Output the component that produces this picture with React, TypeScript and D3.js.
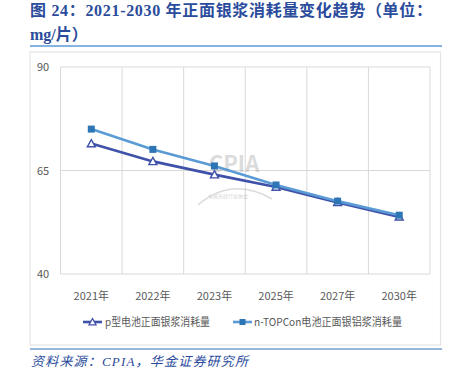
import React from 'react'
import * as d3 from 'd3'

const years = ['2021年', '2022年', '2023年', '2025年', '2027年', '2030年']
const pType = [71.5, 67.2, 64.0, 61.0, 57.3, 53.8]
const nTopcon = [75.0, 70.1, 66.1, 61.5, 57.6, 54.2]
const yTicks = [40, 65, 90]
const seriesNames = ['p型电池正面银浆消耗量', 'n-TOPCon电池正面银铝浆消耗量']

const W = 455
const H = 373
const margin = { top: 67, right: 25, bottom: 99, left: 60.5 }

export default function App() {
  const x = d3.scaleBand().domain(years).range([margin.left, W - margin.right]).padding(0)
  const y = d3.scaleLinear().domain([40, 90]).range([H - margin.bottom, margin.top])

  const line = d3.line<number>()
    .x((d, i) => x(years[i])! + x.bandwidth() / 2)
    .y(d => y(d))

  const grid = '#D9D9D9'
  const label = '#595959'
  const dark = '#3F51A8'
  const light = '#5B9BD5'
  const sq = '#2E75B6'
  const font = '"Noto Sans CJK SC", "Noto Sans", sans-serif'
  const titleFont = '"Liberation Serif", "Noto Sans CJK SC", serif'

  const tri = (cx: number, cy: number, s: number) =>
    `M${cx},${cy - s} L${cx + s},${cy + s * 0.8} L${cx - s},${cy + s * 0.8} Z`

  const edges = [...years.map(d => x(d)!), W - margin.right]

  return (
    <svg width={W} height={H} style={{ position: 'absolute', left: 0, top: 0 }}>
      <rect width={W} height={H} fill="#fff" />
      {/* title */}
      <text x={30} y={16} fontFamily={titleFont} fontWeight="bold" fontSize={16} fill="#2B4C9C"
        textLength={402} lengthAdjust="spacing">
        图 24：2021-2030 年正面银浆消耗量变化趋势（单位：
      </text>
      <text x={30} y={40} fontFamily={titleFont} fontWeight="bold" fontSize={16} fill="#2B4C9C">
        mg/片）
      </text>
      <line x1={30} x2={442} y1={46} y2={46} stroke={light} strokeWidth={1.5} />

      {/* chart frame */}
      <rect x={30} y={52} width={410.5} height={293} fill="none" stroke="#E4E4E4" strokeWidth={1.2} />

      {/* grid */}
      {yTicks.map(t => (
        <g key={t}>
          <line x1={margin.left} x2={W - margin.right} y1={y(t)} y2={y(t)} stroke={grid} strokeWidth={1} />
          <text x={37} y={y(t) + 4} fontFamily={font} fontSize={11} fill={label}>{t}</text>
        </g>
      ))}
      {edges.map((e, i) => (
        <line key={i} x1={e} x2={e} y1={y(90)} y2={y(40)} stroke={grid} strokeWidth={1} />
      ))}
      {years.map(d => (
        <text key={d} x={x(d)! + x.bandwidth() / 2} y={300} textAnchor="middle" fontFamily={font} fontSize={11} fill={label}>{d}</text>
      ))}

      {/* watermark */}
      <g opacity={0.4}>
        <text x={234} y={172} textAnchor="middle" fontFamily={font} fontWeight="bold" fontSize={22} fill="#A8A8A8">CPIA</text>
        <text x={228} y={198} textAnchor="middle" fontFamily={font} fontSize={5} fill="#888">中国光伏行业协会</text>
        <path d="M198,205 Q232,176 272,199" fill="none" stroke="#A8A8A8" strokeWidth={1.5} />
      </g>

      {/* series */}
      <path d={line(pType)!} fill="none" stroke={dark} strokeWidth={2.6} />
      {pType.map((v, i) => (
        <path key={i} d={tri(x(years[i])! + x.bandwidth() / 2, y(v), 4)} fill="#fff" stroke={dark} strokeWidth={1.4} />
      ))}
      <path d={line(nTopcon)!} fill="none" stroke={light} strokeWidth={2.6} />
      {nTopcon.map((v, i) => (
        <rect key={i} x={x(years[i])! + x.bandwidth() / 2 - 3.5} y={y(v) - 3.5} width={7} height={7} fill={sq} />
      ))}

      {/* legend */}
      <line x1={83} x2={102} y1={322} y2={322} stroke={dark} strokeWidth={2.6} />
      <path d={tri(92.5, 322, 3.5)} fill="#fff" stroke={dark} strokeWidth={1.3} />
      <text x={105} y={326} fontFamily={font} fontSize={11} fill={label}
        textLength={105} lengthAdjust="spacingAndGlyphs">{seriesNames[0]}</text>
      <line x1={233} x2={252} y1={322} y2={322} stroke={light} strokeWidth={2.6} />
      <rect x={239.5} y={319} width={6} height={6} fill={sq} />
      <text x={254} y={326} fontFamily={font} fontSize={11} fill={label}
        textLength={148} lengthAdjust="spacingAndGlyphs">{seriesNames[1]}</text>

      {/* source */}
      <line x1={30} x2={442} y1={349} y2={349} stroke={sq} strokeWidth={1.2} />
      <text x={31} y={366} fontFamily={titleFont} fontStyle="italic" fontSize={13} fill="#2B4C9C"
        textLength={217} lengthAdjust="spacing">
        资料来源：CPIA，华金证券研究所
      </text>
    </svg>
  )
}
